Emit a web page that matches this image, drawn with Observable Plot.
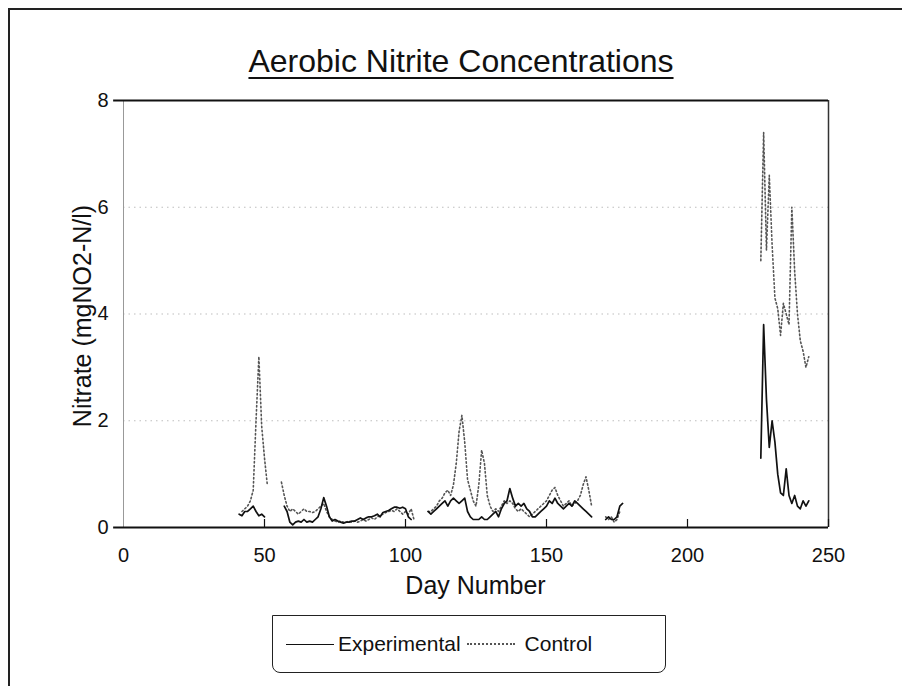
<!DOCTYPE html>
<html>
<head>
<meta charset="utf-8">
<script src="https://cdn.jsdelivr.net/npm/d3@7"></script>
<script src="https://cdn.jsdelivr.net/npm/@observablehq/plot@0.6"></script>
<style>
  html, body { margin: 0; padding: 0; background: #fff; }
  #page { position: relative; width: 902px; height: 686px; overflow: hidden; background: #fff; font-family: "Liberation Sans", Arial, sans-serif; color: #111; }
  #pageframe { position: absolute; left: 8px; top: 8px; width: 1000px; height: 1000px; border-left: 2px solid #222; border-top: 2px solid #222; }
  #title { position: absolute; left: 0; top: 42px; width: 922px; text-align: center; font-size: 32px; line-height: 38px; text-decoration: underline; text-underline-offset: 5px; text-decoration-thickness: 2px; }
  #chart { position: absolute; left: 0; top: 0; }
  #xlabel { position: absolute; left: 0; width: 951px; top: 571px; text-align: center; font-size: 25px; line-height: 29px; }
  #ylabel { position: absolute; left: 82px; top: 316px; transform: translate(-50%, -50%) rotate(-90deg); font-size: 25px; white-space: nowrap; }
  #legend { position: absolute; left: 272px; top: 615px; width: 394px; height: 58px; border: 1.5px solid #222; border-radius: 0 0 8px 8px; display: flex; align-items: center; font-size: 21px; box-sizing: border-box; padding-left: 13px; }
  .sw { display: inline-block; width: 48px; height: 0; vertical-align: middle; }
</style>
</head>
<body>
<div id="page">
  <div id="pageframe"></div>
  <div id="title">Aerobic Nitrite Concentrations</div>
  <div id="chart"></div>
  <div id="xlabel">Day Number</div>
  <div id="ylabel">Nitrate (mgNO2-N/l)</div>
  <div id="legend"></div>
</div>
<script>
const seriesNames = ["Experimental", "Control"];
const xTicks = [0, 50, 100, 150, 200, 250];
const yTicks = [0, 2, 4, 6, 8];
const gridLevels = [2, 4, 6];

const expDays = [41,42,43,44,45,46,47,48,49,50,51,
  57,58,59,60,61,62,63,64,65,66,67,68,69,70,71,72,73,74,75,76,77,78,79,80,81,82,83,84,85,86,87,88,89,90,91,92,93,94,95,96,97,98,99,100,101,102,103,
  108,109,110,111,112,113,114,115,116,117,118,119,120,121,122,123,124,125,126,127,128,129,130,131,132,133,134,135,136,137,138,139,140,141,142,143,144,145,146,147,148,149,150,151,152,153,154,155,156,157,158,159,160,161,162,163,164,165,166,167,
  171,172,173,174,175,176,177,178,
  226,227,228,229,230,231,232,233,234,235,236,237,238,239,240,241,242,243];
const expVals = [0.25,0.22,0.3,0.3,0.35,0.4,0.3,0.22,0.25,0.2,null,
  0.4,0.3,0.1,0.05,0.1,0.12,0.1,0.15,0.1,0.12,0.1,0.15,0.2,0.35,0.56,0.4,0.2,0.12,0.15,0.12,0.1,0.08,0.1,0.1,0.12,0.12,0.15,0.18,0.15,0.18,0.2,0.2,0.22,0.25,0.2,0.28,0.3,0.32,0.35,0.38,0.38,0.36,0.38,0.35,0.2,0.15,null,
  0.3,0.25,0.3,0.35,0.4,0.45,0.5,0.4,0.5,0.55,0.5,0.45,0.5,0.55,0.3,0.2,0.15,0.15,0.15,0.2,0.15,0.15,0.2,0.25,0.3,0.2,0.35,0.45,0.5,0.73,0.55,0.4,0.45,0.4,0.45,0.35,0.3,0.2,0.2,0.25,0.3,0.35,0.4,0.5,0.45,0.55,0.45,0.4,0.35,0.4,0.45,0.4,0.5,0.45,0.4,0.35,0.3,0.25,0.2,null,
  0.15,0.2,0.15,0.15,0.2,0.4,0.45,null,
  1.3,3.8,2.4,1.5,2.0,1.6,1.0,0.65,0.6,1.1,0.6,0.45,0.6,0.4,0.35,0.5,0.4,0.5];

const ctlDays = [42,43,44,45,46,47,48,49,50,51,52,
  56,57,58,59,60,61,62,63,64,65,66,67,68,69,70,71,72,73,74,75,76,77,78,79,80,81,82,83,84,85,86,87,88,89,90,91,92,93,94,95,96,97,98,99,100,101,102,103,104,
  108,109,110,111,112,113,114,115,116,117,118,119,120,121,122,123,124,125,126,127,128,129,130,131,132,133,134,135,136,137,138,139,140,141,142,143,144,145,146,147,148,149,150,151,152,153,154,155,156,157,158,159,160,161,162,163,164,165,166,167,
  171,172,173,174,175,176,177,
  226,227,228,229,230,231,232,233,234,235,236,237,238,239,240,241,242,243];
const ctlVals = [0.3,0.35,0.4,0.5,0.7,2.0,3.2,1.9,1.3,0.8,null,
  0.85,0.6,0.4,0.3,0.35,0.3,0.25,0.3,0.35,0.3,0.3,0.28,0.3,0.35,0.4,0.45,0.3,0.2,0.15,0.12,0.1,0.12,0.1,0.1,0.12,0.1,0.12,0.1,0.12,0.15,0.12,0.15,0.18,0.15,0.2,0.22,0.25,0.28,0.3,0.32,0.3,0.35,0.3,0.25,0.3,0.25,0.35,0.15,null,
  0.3,0.3,0.35,0.4,0.5,0.55,0.65,0.7,0.6,0.8,1.2,1.8,2.1,1.6,0.9,0.7,0.5,0.4,0.8,1.45,1.2,0.6,0.4,0.3,0.35,0.3,0.4,0.5,0.45,0.5,0.45,0.35,0.3,0.35,0.3,0.25,0.2,0.25,0.3,0.35,0.4,0.45,0.5,0.6,0.7,0.75,0.6,0.5,0.4,0.45,0.5,0.4,0.45,0.5,0.6,0.8,0.95,0.7,0.4,null,
  0.2,0.15,0.2,0.1,0.15,0.3,null,
  5.0,7.4,5.2,6.6,5.3,4.3,4.1,3.6,4.2,4.0,3.8,6.0,4.8,4.0,3.5,3.3,3.0,3.2];

const expData = expDays.map((d, i) => ({day: d, val: expVals[i]}));
const ctlData = ctlDays.map((d, i) => ({day: d, val: ctlVals[i]}));

const chart = Plot.plot({
  width: 902,
  height: 600,
  marginTop: 100,
  marginBottom: 73,
  marginLeft: 123,
  marginRight: 74,
  x: {domain: [0, 250], ticks: xTicks, label: null},
  y: {domain: [0, 8], ticks: yTicks, label: null},
  style: {fontFamily: "'Liberation Sans', Arial, sans-serif", fontSize: "20px", background: "transparent", color: "#111", overflow: "visible"},
  marks: [
    Plot.ruleY(gridLevels, {stroke: "#888", strokeDasharray: "1.5,4", strokeOpacity: 0.55}),
    Plot.line(ctlData, {x: "day", y: "val", stroke: "#555", strokeWidth: 1.6, strokeDasharray: "1.5,2.5"}),
    Plot.line(expData, {x: "day", y: "val", stroke: "#111", strokeWidth: 1.7}),
    Plot.ruleX([0], {stroke: "#999", strokeWidth: 1}),
    Plot.ruleX([250], {stroke: "#333", strokeWidth: 1.5}),
    Plot.ruleY([0, 8], {x1: -3.5, x2: 250, stroke: "#111", strokeWidth: 1.8}),
    Plot.ruleX(xTicks.slice(1), {y1: 0, y2: 0.15, stroke: "#111", strokeWidth: 1.2}),
    Plot.axisX({ticks: xTicks, tickSize: 0, tickPadding: 20, label: null}),
    Plot.axisY({ticks: yTicks, tickSize: 0, tickPadding: 15, label: null})
  ]
});
document.getElementById("chart").appendChild(chart);

const lg = document.getElementById("legend");
lg.innerHTML =
  '<span class="sw" style="border-top:1.7px solid #111"></span>' +
  '<span style="margin-left:4px">' + seriesNames[0] + '</span>' +
  '<span class="sw" style="border-top:2px dotted #555;margin-left:6px"></span>' +
  '<span style="margin-left:10px">' + seriesNames[1] + '</span>';
</script>
</body>
</html>
